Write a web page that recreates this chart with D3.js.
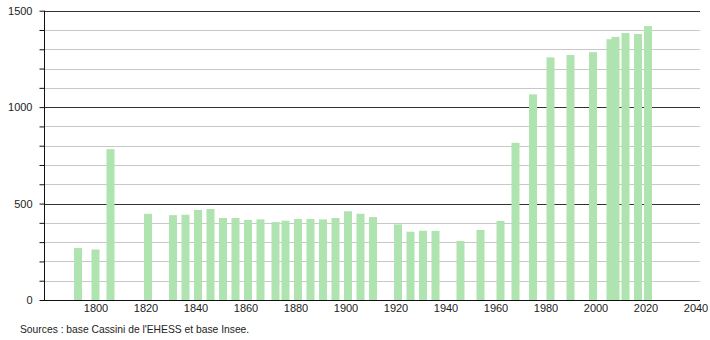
<!DOCTYPE html>
<html lang="fr">

<head>
    <meta charset="UTF-8">
    <title>Population</title>
    <script src="https://d3js.org/d3.v7.min.js"></script>
    <style>
        body { margin: 0; background: #fff; }
        svg text { font-family: "Liberation Sans", Arial, sans-serif; font-size: 11px; fill: #222; }
    </style>
</head>

<body>
    <svg id="chart" width="710" height="340"></svg>
<script>
    // census years and population
    const years = [1793, 1800, 1806, 1821, 1831, 1836, 1841, 1846, 1851, 1856,
        1861, 1866, 1872, 1876, 1881, 1886, 1891, 1896, 1901, 1906,
        1911, 1921, 1926, 1931, 1936, 1946, 1954, 1962, 1968, 1975,
        1982, 1990, 1999, 2006, 2008, 2012, 2017, 2021];
    const population = [270, 262, 782, 447, 440, 442, 467, 472, 425, 425,
        415, 418, 404, 411, 420, 420, 418, 425, 460, 447,
        430, 392, 354, 359, 358, 306, 363, 410, 815, 1066,
        1258, 1270, 1285, 1352, 1364, 1384, 1379, 1420];
    const xTicks = [1800, 1820, 1840, 1860, 1880, 1900, 1920, 1940, 1960, 1980, 2000, 2020, 2040];
    const yMinor = d3.range(0, 1501, 100);
    const yMajor = [0, 500, 1000, 1500];
    const source = "Sources : base Cassini de l'EHESS et base Insee.";

    const svg = d3.select('#chart');
    const mLeft = 44, mRight = 700, mTop = 10.7, mBottom = 300;

    const x = d3.scaleLinear().domain([1779.4, 2041.8]).range([mLeft, mRight]);
    const y = d3.scaleLinear().domain([0, 1500]).range([mBottom, mTop]);

    // minor grid
    svg.append('g').selectAll('line')
        .data(yMinor.filter(d => !yMajor.includes(d)))
        .join('line')
        .attr('x1', mLeft).attr('x2', mRight)
        .attr('y1', d => Math.round(y(d)) + 0.5).attr('y2', d => Math.round(y(d)) + 0.5)
        .attr('stroke', '#c8c8c8');

    // major grid
    svg.append('g').selectAll('line')
        .data(yMajor.filter(d => d > 0))
        .join('line')
        .attr('x1', mLeft).attr('x2', mRight)
        .attr('y1', d => Math.round(y(d)) + 0.5).attr('y2', d => Math.round(y(d)) + 0.5)
        .attr('stroke', '#333');

    // bars
    svg.append('g').selectAll('rect')
        .data(years.map((yr, i) => ({ yr, v: population[i] })))
        .join('rect')
        .attr('x', d => x(d.yr) - 4)
        .attr('width', 8)
        .attr('y', d => y(d.v))
        .attr('height', d => y(0) - y(d.v))
        .attr('fill', '#afe3af');

    // y axis
    const yAxis = d3.axisLeft(y).tickValues(yMinor).tickSize(5)
        .tickFormat(d => yMajor.includes(d) ? d : '');
    svg.append('g')
        .attr('transform', `translate(${mLeft + 0.5},0)`)
        .call(yAxis)
        .call(g => g.select('.domain').attr('stroke', '#111').attr('d', `M0,${mTop}V${mBottom}`))
        .call(g => g.selectAll('.tick line').attr('stroke', '#111'))
        .call(g => g.selectAll('.tick text').attr('x', -12).attr('fill', '#222')
            .style('font-family', '"Liberation Sans", Arial, sans-serif').style('font-size', '11px'));

    // x axis
    const xAxis = d3.axisBottom(x).tickValues(xTicks).tickSize(0).tickFormat(d3.format('d'));
    svg.append('g')
        .attr('transform', `translate(0,${mBottom + 0.5})`)
        .call(xAxis)
        .call(g => g.select('.domain').attr('stroke', '#111').attr('d', `M${mLeft},0H${mRight}`))
        .call(g => g.selectAll('.tick text').attr('y', 4).attr('fill', '#222')
            .style('font-family', '"Liberation Sans", Arial, sans-serif').style('font-size', '11px'));

    svg.append('text')
        .attr('x', 20).attr('y', 333)
        .style('font-size', '10.3px')
        .text(source);
</script>
</body>

</html>
